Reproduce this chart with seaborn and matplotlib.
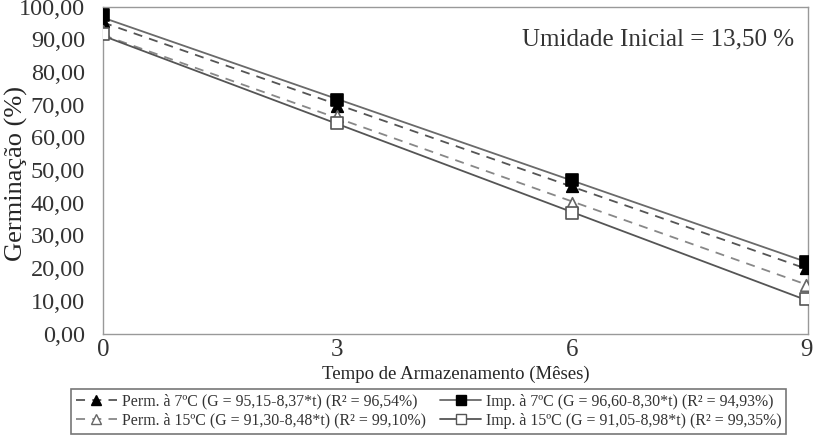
import matplotlib
matplotlib.use("Agg")
import matplotlib.pyplot as plt
from matplotlib.lines import Line2D
import seaborn as sns
import pandas as pd
import numpy as np

sns.set_style("white")
plt.rcParams['font.family'] = ['Liberation Serif', 'DejaVu Serif']

months = [0, 3, 6, 9]
perm7 = [95.5, 69.5, 45.0, 20.0]
imp7 = [97.5, 71.5, 47.0, 22.0]
perm15 = [92.5, 66.5, 40.0, 15.0]
imp15 = [91.5, 64.5, 37.0, 10.5]

# regression coefficients from the legend (intercept, slope)
intercepts = [95.15, 96.60, 91.30, 91.05]
slopes = [-8.37, -8.30, -8.48, -8.98]

labels = [
    "Perm. à 7ºC (G = 95,15-8,37*t) (R² = 96,54%)",
    "Imp. à 7ºC (G = 96,60-8,30*t) (R² = 94,93%)",
    "Perm. à 15ºC (G = 91,30-8,48*t) (R² = 99,10%)",
    "Imp. à 15ºC (G = 91,05-8,98*t) (R² = 99,35%)",
]
series = [perm7, imp7, perm15, imp15]
yticks = [0, 10, 20, 30, 40, 50, 60, 70, 80, 90, 100]
ytick_labels = ["0,00", "10,00", "20,00", "30,00", "40,00", "50,00",
                "60,00", "70,00", "80,00", "90,00", "100,00"]

styles = [
    dict(marker="^", mfc="black", mec="black", ls=(0, (5, 4)), lc="#555555"),
    dict(marker="s", mfc="black", mec="black", ls="-", lc="#6a6a6a"),
    dict(marker="^", mfc="white", mec="#666666", ls=(0, (5, 4)), lc="#888888"),
    dict(marker="s", mfc="white", mec="#555555", ls="-", lc="#555555"),
]

fig = plt.figure(figsize=(8.15, 4.48), dpi=100)
ax = fig.add_axes([0.1264, 0.2554, 0.8650, 0.7299])

tline = np.array([0.0, 9.0])
handles = []
for vals, b0, b1, lab, st in zip(series, intercepts, slopes, labels, styles):
    fit = pd.DataFrame({"t": tline, "G": b0 + b1 * tline})
    sns.lineplot(data=fit, x="t", y="G", ax=ax, color=st["lc"],
                 linestyle=st["ls"], linewidth=1.3, zorder=2)
    pts = pd.DataFrame({"t": months, "G": vals})
    sns.scatterplot(data=pts, x="t", y="G", ax=ax, marker=st["marker"],
                    s=70, color=st["mfc"], edgecolor=st["mec"],
                    linewidth=1.2, zorder=4)
    handles.append(Line2D([0], [0], color=st["lc"], linestyle=st["ls"],
                          linewidth=1.3, marker=st["marker"],
                          markerfacecolor=st["mfc"], markeredgecolor=st["mec"],
                          markersize=6.5, label=lab))

ax.set_xlim(0, 9.02)
ax.set_ylim(0, 100)
ax.set_xticks(months)
ax.set_xticklabels([str(m) for m in months], fontsize=18)
ax.set_yticks(yticks)
ax.set_yticklabels(ytick_labels, fontsize=17.5)
ax.set_xlabel("Tempo de Armazenamento (Mêses)", fontsize=13.5, labelpad=3)
ax.set_ylabel("Germinação (%)", fontsize=19)
ax.yaxis.set_label_coords(-0.106, 0.49)
ax.tick_params(axis="both", direction="out", length=3, width=0.8,
               color="#777777", labelcolor="#333333")
ax.tick_params(axis="y", pad=10)
ax.tick_params(axis="x", pad=1)
for sp in ax.spines.values():
    sp.set_visible(True)
    sp.set_color("#999999")
    sp.set_linewidth(1.0)

ax.text(0.981, 0.898, "Umidade Inicial = 13,50 %", transform=ax.transAxes,
        ha="right", va="center", fontsize=18, color="#333333")

order = [0, 2, 1, 3]
leg = fig.legend([handles[i] for i in order], [labels[i] for i in order],
                 ncol=2, loc="center", bbox_to_anchor=(0.526, 0.082),
                 fontsize=11.4, frameon=True, fancybox=False,
                 edgecolor="#555555", handlelength=2.6, handletextpad=0.3,
                 columnspacing=0.9, labelspacing=0.2, borderpad=0.3,
                 borderaxespad=0)
leg.get_frame().set_linewidth(1.2)
for t in leg.get_texts():
    t.set_color("#333333")

fig.savefig("out.png", dpi=100)
